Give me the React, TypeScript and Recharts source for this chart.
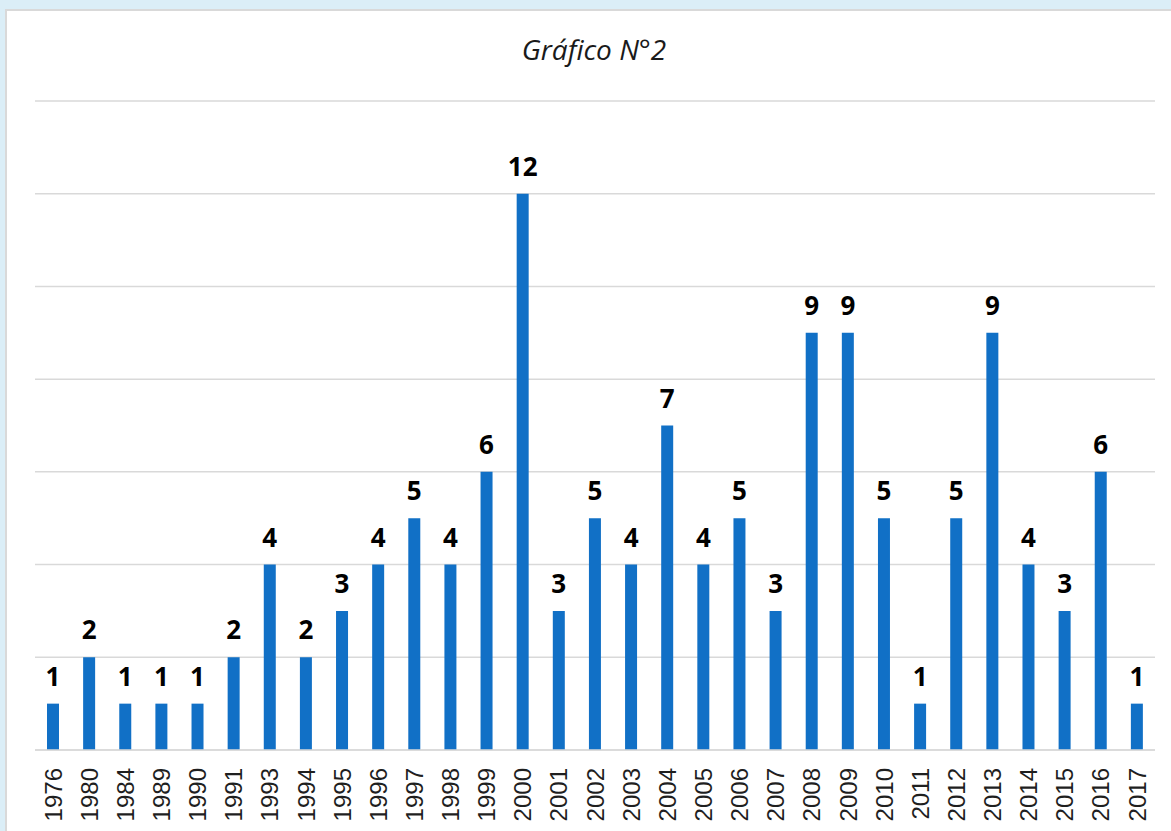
import * as React from "react";
import { BarChart, Bar, XAxis, YAxis, CartesianGrid, LabelList } from "recharts";

const years = [
  "1976", "1980", "1984", "1989", "1990", "1991", "1993", "1994", "1995", "1996",
  "1997", "1998", "1999", "2000", "2001", "2002", "2003", "2004", "2005", "2006",
  "2007", "2008", "2009", "2010", "2011", "2012", "2013", "2014", "2015", "2016", "2017",
];
const counts = [
  1, 2, 1, 1, 1, 2, 4, 2, 3, 4,
  5, 4, 6, 12, 3, 5, 4, 7, 4, 5,
  3, 9, 9, 5, 1, 5, 9, 4, 3, 6, 1,
];
const yTicks = [0, 2, 4, 6, 8, 10, 12, 14];

const chartData = years.map((year, i) => ({ year, value: counts[i] }));

function YearTick(props: any) {
  const { x, y, payload } = props;
  const ty = y + 10;
  return (
    <text
      x={x}
      y={ty}
      transform={`rotate(-90, ${x}, ${ty})`}
      textAnchor="end"
      dy="0.36em"
      fontSize={24}
      fontFamily="'Liberation Sans', Arial, sans-serif"
      fill="#1f1f1f"
    >
      {payload.value}
    </text>
  );
}

export default function App() {
  return (
    <div style={{ position: "absolute", left: 0, top: 0, width: 1171, height: 831, background: "#dbeef7", overflow: "hidden" }}>
      <div
        style={{
          position: "absolute",
          left: 5,
          top: 9,
          width: 1171,
          height: 831,
          background: "#fff",
          borderLeft: "2px solid #d9d9d9",
          borderTop: "2px solid #d9d9d9",
        }}
      />
      <div
        style={{
          position: "absolute",
          left: 0,
          top: 35,
          width: 1188,
          textAlign: "center",
          fontFamily: "'Open Sans', sans-serif",
          fontStyle: "italic",
          fontSize: 28,
          lineHeight: "28px",
          color: "#1a1a1a",
        }}
      >
        Gráfico N°2
      </div>
      <div style={{ position: "absolute", left: 0, top: 0 }}>
        <BarChart width={1171} height={831} data={chartData} margin={{ top: 101, right: 16, bottom: 0, left: 35 }}>
          <CartesianGrid vertical={false} stroke="#d9d9d9" strokeWidth={1.5} />
          <YAxis hide domain={[0, 14]} ticks={yTicks} />
          <XAxis
            dataKey="year"
            height={81}
            interval={0}
            tickLine={false}
            axisLine={{ stroke: "#d9d9d9", strokeWidth: 1.5 }}
            tick={<YearTick />}
          />
          <Bar dataKey="value" fill="#1170c6" barSize={12} isAnimationActive={false}>
            <LabelList
              dataKey="value"
              position="top"
              offset={18}
              fill="#000"
              fontSize={26}
              fontWeight="bold"
              fontFamily="'Open Sans', sans-serif"
            />
          </Bar>
        </BarChart>
      </div>
    </div>
  );
}
